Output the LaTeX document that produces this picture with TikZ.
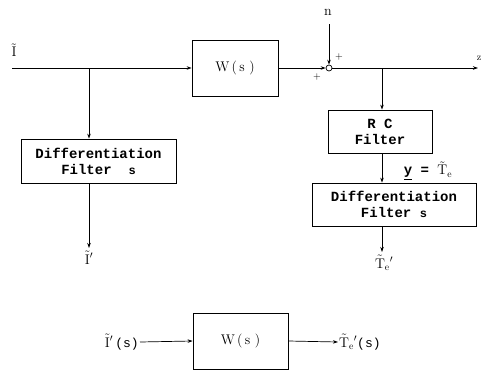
\documentclass[tikz,border=0pt]{standalone}
\usepackage{fontspec}
\newfontfamily\boxfont{Liberation Mono}
\usetikzlibrary{arrows.meta}
\begin{document}
\begin{tikzpicture}[x=1pt,y=-1pt,
  blk/.style={draw, line width=0.8pt, inner sep=0pt, align=center},
  mono/.style={font=\boxfont\bfseries\fontsize{14}{16}\selectfont},
  wfont/.style={font=\fontsize{14}{16}\selectfont},
  lab/.style={font=\fontsize{14}{16}\selectfont, inner sep=1pt},
  sig/.style={line width=0.7pt, -{Stealth[length=5pt,width=3.5pt]}},
  ln/.style={line width=0.7pt}]
\useasboundingbox (0,0) rectangle (482,375);
% blocks
\node[blk, wfont, minimum width=86pt, minimum height=56pt] (W1) at (235,68) {W\,(\,s\,\,)};
\node[draw, circle, line width=0.7pt, minimum size=6pt, inner sep=0pt] (sum) at (329,68) {};
\node[blk, mono, minimum width=104pt, minimum height=43pt] (RC) at (380,131.5) {R C\\Filter};
\node[blk, mono, minimum width=164pt, minimum height=43pt] (D2) at (394,204.5) {Differentiation\\Filter {\fontsize{12}{14}\selectfont s}};
\node[blk, mono, minimum width=155pt, minimum height=44pt] (D1) at (98.5,161) {Differentiation\\Filter \ {\fontsize{12}{14}\selectfont s}};
\node[blk, wfont, minimum width=95pt, minimum height=56pt] (W2) at (240.5,341) {W\,(\,s\,\,)};
% coordinates
\coordinate (start) at (12,68);
\coordinate (bl) at (89,68);
\coordinate (br) at (382,68);
\coordinate (zend) at (478,68);
\coordinate (ntop) at (329,24);
\coordinate (o1) at (89,248);
\coordinate (o2) at (382,252);
% labels
\node[lab] (Ilab) at (14,50) {$\tilde{\mathrm{I}}$};
\node[lab] (nlab) at (328,12) {n};
\node[lab, font=\fontsize{10}{11}\selectfont] (zlab) at (479,58) {z};
\node[lab, font=\fontsize{10}{11}\selectfont] (p1) at (339,57) {+};
\node[lab, font=\fontsize{10}{11}\selectfont] (p2) at (317,77) {+};
\node[lab] (ylab) at (428,171) {{\boxfont\bfseries\underline{y}~=~}{$\tilde{\mathrm{T}}_{\mathrm{e}}$}};
\node[lab, anchor=north] (I1) at (89,250) {$\tilde{\mathrm{I}}'$};
\node[lab, anchor=north] (T1) at (384,254) {$\tilde{\mathrm{T}}_{\mathrm{e}}{}'$};
\node[lab, anchor=east] (inlab) at (140,342) {$\tilde{\mathrm{I}}'$\,{\boxfont\fontsize{13}{15}\selectfont(s)}};
\node[lab, anchor=west] (outlab) at (338,342) {$\tilde{\mathrm{T}}_{\mathrm{e}}{}'${\boxfont\fontsize{13}{15}\selectfont(s)}};
% connectors
\draw[sig] (start) -- (W1.west);
\draw[sig] (W1.east) -- (sum.west);
\draw[sig] (ntop) -- (sum.north);
\draw[sig] (sum.east) -- (zend);
\draw[sig] (bl) -- (bl |- D1.north);
\draw[sig] (D1.south -| bl) -- (o1);
\draw[sig] (br) -- (br |- RC.north);
\draw[sig] (RC.south -| br) -- (br |- D2.north);
\draw[sig] (D2.south -| br) -- (o2);
\draw[sig] (inlab.east) -- (W2.west);
\draw[sig] (W2.east) -- (outlab.west);
\end{tikzpicture}
\end{document}
